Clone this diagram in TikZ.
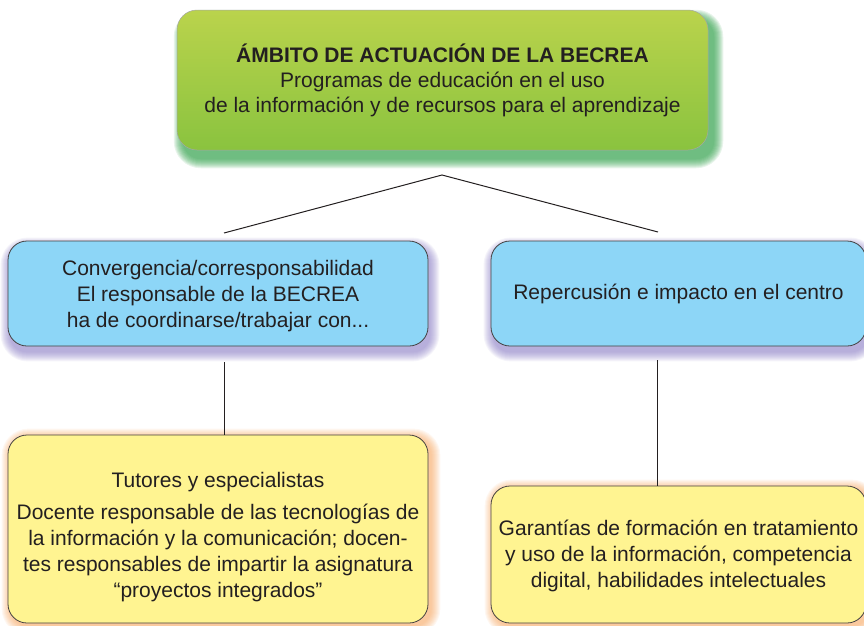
\documentclass[tikz,border=0pt]{standalone}
\usepackage{fontspec}
\setmainfont{Liberation Sans}
\usetikzlibrary{calc,backgrounds}
\definecolor{txt}{HTML}{231F20}
\definecolor{gtop}{HTML}{BAD34C}
\definecolor{gbot}{HTML}{8AC33F}
\definecolor{gsh}{HTML}{2E9F48}
\definecolor{bfill}{HTML}{8DD6F7}
\definecolor{bsh}{HTML}{7D6FBE}
\definecolor{yfill}{HTML}{FFF491}
\definecolor{ysh}{HTML}{F59A4A}
\newcommand{\glowbox}[5]{%
  \foreach \k in {0,1,...,9}{%
    \fill[#2,opacity=#5,rounded corners={18+\k}]
      ($(#1.south west)+(#3-\k,#4+\k)$) rectangle ($(#1.north east)+(#3+\k,#4-\k)$);}}
\begin{document}
\begin{tikzpicture}[x=1pt,y=-1pt,
  box/.style={rectangle,rounded corners=19pt,draw=txt!85,line width=0.8pt,
    inner sep=0pt,align=center,text=txt,
    font=\fontsize{21}{26}\selectfont},
  conn/.style={draw=txt,line width=1pt}]
\useasboundingbox (0,0) rectangle (864,625);
\node[box,draw=black!35,line width=0.5pt,top color=gtop,bottom color=gbot,
  minimum width=531pt,minimum height=140pt,rounded corners=20pt,
  font=\fontsize{21}{25}\selectfont] (top) at (442.5,80)
  {\rule{0pt}{19pt}\textbf{ÁMBITO DE ACTUACIÓN DE LA BECREA}\\Programas de educación en el uso\\de la información y de recursos para el aprendizaje};
\node[box,fill=bfill,minimum width=420pt,minimum height=105pt] (lb) at (218,293.5)
  {\rule{0pt}{21pt}Convergencia/corresponsabilidad\\El responsable de la BECREA\\ha de coordinarse/trabajar con...};
\node[box,fill=bfill,minimum width=375pt,minimum height=105pt] (rb) at (678.5,293.5)
  {Repercusión e impacto en el centro};
\node[box,fill=yfill,minimum width=420pt,minimum height=188pt] (ly) at (218,529)
  {\rule{0pt}{31pt}Tutores y especialistas\\[6pt]Docente responsable de las tecnologías de\\la información y la comunicación; docen-\\tes responsables de impartir la asignatura\\“proyectos integrados”};
\node[box,fill=yfill,minimum width=375pt,minimum height=137pt] (ry) at (678.5,554.5)
  {\rule{0pt}{19pt}Garantías de formación en tratamiento\\y uso de la información, competencia\\digital, habilidades intelectuales};
\begin{pgfonlayer}{background}
  \glowbox{top}{gsh}{6}{9}{0.11}
  \glowbox{lb}{bsh}{2}{6}{0.08}
  \glowbox{rb}{bsh}{2}{6}{0.08}
  \glowbox{ly}{ysh}{3}{3}{0.075}
  \glowbox{ry}{ysh}{3}{3}{0.075}
\end{pgfonlayer}
\coordinate (apex) at (442,175);
\coordinate (lend) at (224,233);
\coordinate (rend) at (658,232);
\coordinate (lv) at (224,362);
\coordinate (rv) at (657,360);
\draw[conn] (lend) -- (apex) -- (rend);
\draw[conn] (lv) -- (lv |- ly.north);
\draw[conn] (rv) -- (rv |- ry.north);
\end{tikzpicture}
\end{document}
